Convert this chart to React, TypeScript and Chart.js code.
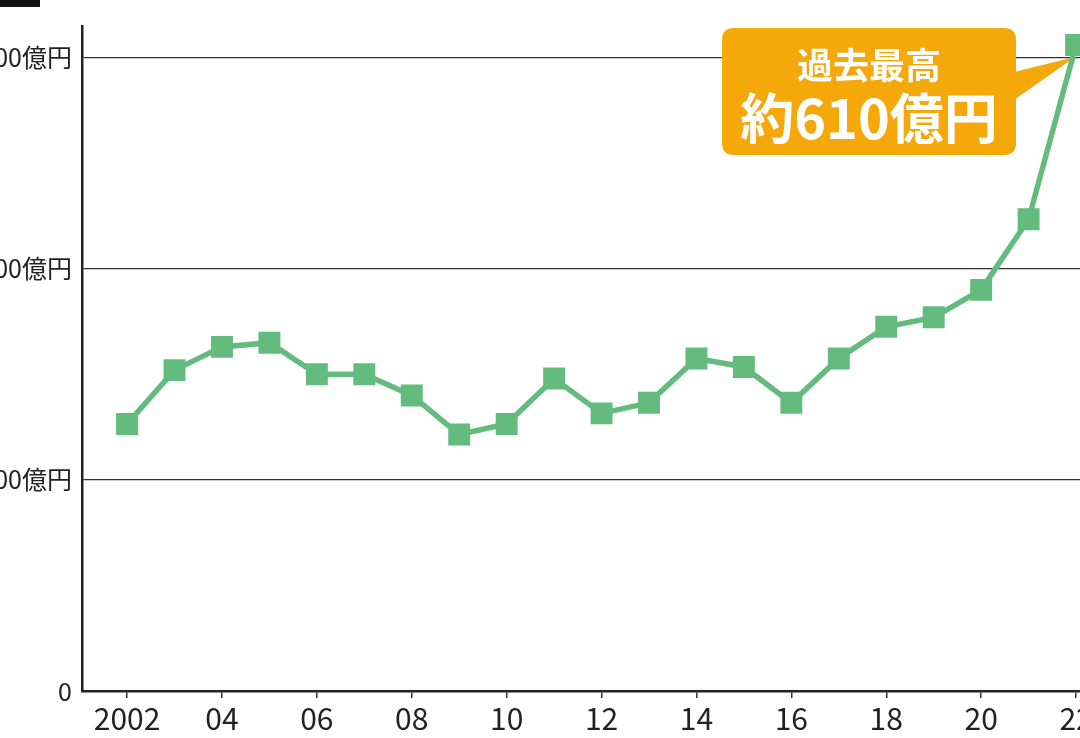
import React, { useEffect, useRef } from "react";
import { Chart, registerables } from "chart.js";

Chart.register(...registerables);

const years = [2002, 2003, 2004, 2005, 2006, 2007, 2008, 2009, 2010, 2011, 2012, 2013, 2014, 2015, 2016, 2017, 2018, 2019, 2020, 2021, 2022];
const values = [253, 304, 326, 330, 300, 300, 280, 243, 253, 296, 263, 273, 315, 307, 273, 315, 345, 354, 380, 447, 612];
const xTickYears = [2002, 2004, 2006, 2008, 2010, 2012, 2014, 2016, 2018, 2020, 2022];
const yTickValues = [0, 200, 400, 600];
const calloutLine1 = "過去最高";
const calloutLine2 = "約610億円";

const FONT = '"Noto Sans CJK JP", "Noto Sans", sans-serif';
const GREEN = "#63bb7e";
const ORANGE = "#f4a80a";

const calloutPlugin = {
  id: "callout",
  beforeDatasetsDraw(chart: any) {
    const ctx = chart.ctx;
    const meta = chart.getDatasetMeta(0);
    const last = meta.data[meta.data.length - 1];
    const px = last.x;
    const py = last.y;
    const bx = 782, by = 28, bw = 294, bh = 127, r = 12;
    ctx.save();
    ctx.fillStyle = ORANGE;
    ctx.beginPath();
    ctx.moveTo(bx + r, by);
    ctx.lineTo(bx + bw - r, by);
    ctx.quadraticCurveTo(bx + bw, by, bx + bw, by + r);
    ctx.lineTo(bx + bw, by + bh - r);
    ctx.quadraticCurveTo(bx + bw, by + bh, bx + bw - r, by + bh);
    ctx.lineTo(bx + r, by + bh);
    ctx.quadraticCurveTo(bx, by + bh, bx, by + bh - r);
    ctx.lineTo(bx, by + r);
    ctx.quadraticCurveTo(bx, by, bx + r, by);
    ctx.closePath();
    ctx.fill();
    ctx.beginPath();
    ctx.moveTo(bx + bw - 2, 72);
    ctx.lineTo(px - 1, py + 12);
    ctx.lineTo(bx + bw - 2, 100);
    ctx.closePath();
    ctx.fill();
    ctx.fillStyle = "#ffffff";
    ctx.textAlign = "center";
    ctx.textBaseline = "middle";
    ctx.font = `bold 36px ${FONT}`;
    ctx.fillText(calloutLine1, bx + bw / 2, 65);
    ctx.font = `bold 54px ${FONT}`;
    ctx.fillText(calloutLine2, bx + bw / 2, 118);
    ctx.restore();
  },
};

export default function App() {
  const ref = useRef<HTMLCanvasElement | null>(null);
  useEffect(() => {
    if (!ref.current) return;
    const chart = new Chart(ref.current, {
      type: "line",
      data: {
        datasets: [
          {
            data: years.map((y, i) => ({ x: y, y: values[i] })),
            borderColor: GREEN,
            backgroundColor: GREEN,
            borderWidth: 5.5,
            pointStyle: "rect",
            pointRadius: 15.5,
            pointBorderWidth: 0,
            pointBackgroundColor: GREEN,
            tension: 0,
          },
        ],
      },
      options: {
        responsive: false,
        animation: false,
        layout: { padding: { top: 26, right: 16.5, left: 0, bottom: 0 } },
        plugins: { legend: { display: false }, tooltip: { enabled: false } },
        scales: {
          x: {
            type: "linear",
            min: 2001.05,
            max: 2023,
            afterBuildTicks: (s: any) => {
              s.ticks = xTickYears.map((v) => ({ value: v }));
            },
            afterFit: (s: any) => {
              s.height = 47;
            },
            grid: { drawOnChartArea: false, drawTicks: true, tickLength: 7, color: "#333", lineWidth: 1.5 },
            border: { display: true, color: "#222", width: 2.5 },
            ticks: {
              color: "#222",
              font: { family: FONT, size: 30 },
              padding: 3,
              maxRotation: 0,
              autoSkip: false,
              callback: (v: any) => (v === 2002 ? "2002" : String(v % 100).padStart(2, "0")),
            },
          },
          y: {
            min: 0,
            max: 630,
            afterBuildTicks: (s: any) => {
              s.ticks = yTickValues.map((v) => ({ value: v }));
            },
            afterFit: (s: any) => {
              s.width = 142;
            },
            grid: { drawTicks: false, color: "#333", lineWidth: 1.2 },
            border: { display: true, color: "#222", width: 2.5 },
            ticks: {
              color: "#222",
              font: { family: FONT, size: 25 },
              padding: 10,
              callback: (v: any) => (v === 0 ? "0" : `${v}億円`),
            },
          },
        },
      },
      plugins: [calloutPlugin],
    } as any);
    return () => chart.destroy();
  }, []);

  return (
    <div style={{ position: "fixed", left: 0, top: 0, width: 1080, height: 738, overflow: "hidden", background: "#fff" }}>
      <div style={{ position: "absolute", left: 0, top: 0, width: 40, height: 7, background: "#111" }} />
      <canvas
        ref={ref}
        width={1200}
        height={738}
        style={{ position: "absolute", left: -60, top: 0, width: 1200, height: 738 }}
      />
    </div>
  );
}
